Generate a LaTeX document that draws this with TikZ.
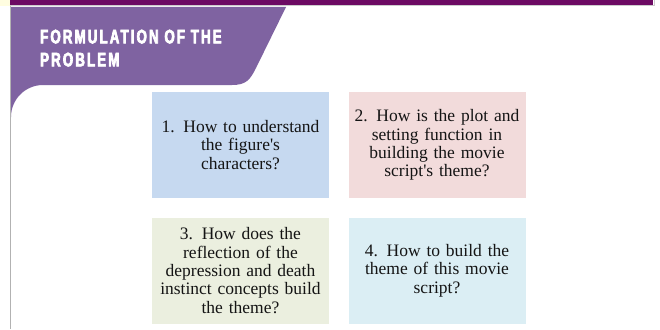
\documentclass[tikz,border=0pt]{standalone}
\usepackage{fontspec}
\setmainfont{Liberation Serif}[Ligatures=TeXOff]
\newfontfamily\titlefont[FakeStretch=0.68,LetterSpace=11,FakeBold=3.5]{Liberation Sans}
\definecolor{topbar}{HTML}{6C0A63}
\definecolor{banner}{HTML}{7F63A1}
\definecolor{cA}{HTML}{C6D9F0}
\definecolor{cB}{HTML}{F2DBDB}
\definecolor{cC}{HTML}{EBEFDF}
\definecolor{cD}{HTML}{DBEEF4}
\tikzset{
  qbox/.style={minimum width=177pt, minimum height=106pt, inner sep=0pt,
    align=center, text width=170pt, font=\fontsize{17.5}{18.3}\selectfont, text=black!92},
}
\begin{document}
\begin{tikzpicture}[x=1pt,y=-1pt]
\useasboundingbox (0,0) rectangle (660,329);
\fill[white] (0,0) rectangle (660,329);
% top bar
\fill[yellow!12] (0,0) rectangle (10,6);
\fill[topbar] (10,0) rectangle (653,5);
\draw[black!20, line width=1pt] (10,6) -- (654,6) -- (654,0);
% page border
\draw[black!30, line width=1pt] (10.5,6) -- (10.5,329);
% banner
\fill[banner] (11,7) -- (286,7) -- (256,68)
  .. controls (250,80) and (246,85) .. (232,85)
  -- (43,85) arc[start angle=-90, end angle=-180, radius=32] -- cycle;
\node[anchor=north west, inner sep=0pt, align=left, text=white,
  font=\titlefont\bfseries\fontsize{19.5}{23}\selectfont] (title) at (40,29.5)
  {FORMULATION OF THE\\PROBLEM};
% boxes
\node[qbox, fill=cA] (q1) at (240.5,145) {1. How to understand\\the figure's\\characters?};
\node[qbox, fill=cB] (q2) at (437,145) {2. How is the plot and\\setting function in\\building the movie\\script's theme?};
\node[qbox, fill=cC] (q3) at (240.5,270.5) {3. How does the\\reflection of the\\depression and death\\instinct concepts build\\the theme?};
\node[qbox, fill=cD] (q4) at (437,270.5) {4. How to build the\\theme of this movie\\script?};
\end{tikzpicture}
\end{document}
